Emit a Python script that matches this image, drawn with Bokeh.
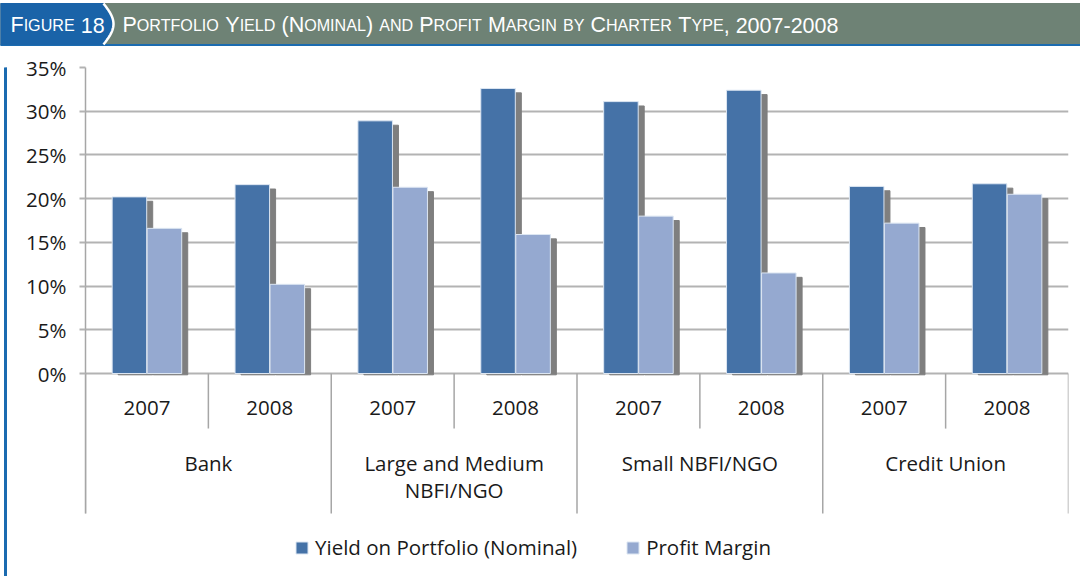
import numpy as np
from bokeh.plotting import figure
from bokeh.models import (ColumnDataSource, FactorRange, Range1d, FixedTicker,
                          PrintfTickFormatter, Legend, LegendItem)
from bokeh.transform import dodge
from bokeh.layouts import column, row
from bokeh.core.properties import value
from bokeh.embed import file_html
from bokeh.resources import INLINE

# ---------------- data ----------------
groups = ["Bank", "Large and Medium NBFI/NGO", "Small NBFI/NGO", "Credit Union"]
group_labels = ["Bank", "Large and Medium\nNBFI/NGO", "Small NBFI/NGO", "Credit Union"]
years = ["2007", "2008"]
yield_nominal = [20.2, 21.6, 28.9, 32.6, 31.1, 32.4, 21.4, 21.7]
profit_margin = [16.6, 10.2, 21.3, 15.9, 18.0, 11.5, 17.2, 20.5]
y_ticks = [0, 5, 10, 15, 20, 25, 30, 35]
series_names = ["Yield on Portfolio (Nominal)", "Profit Margin"]
fig_label = "Figure 18"
title_text = "Portfolio Yield (Nominal) and Profit Margin by Charter Type, 2007-2008"

# ---------------- styles ----------------
DARK = "#4572A7"
LIGHT = "#95A9D0"
SHADOW = "#7F7F7F"
BAR_LINE = "#DCE6F2"
GRID = "#B3B3B3"
AXIS = "#A6A6A6"
BLUE = "#1B6BB0"
BOX_BLUE = "#1A63A8"
BAR_BG = "#6E8275"
FONT = "Open Sans"
TITLE_FONT = "Liberation Sans"
TXT = "#1A1A1A"
FS = "20.5px"

PX_PER_UNIT = 8.743
SHADOW_DROP = 0.5

factors = [(g, y) for g in groups for y in years]

# ---------------- title bar (small caps built from pieces) ----------------
W = dict(A=667, B=667, C=722, D=722, E=667, F=611, G=778, H=722, I=278, J=500,
         K=667, L=556, M=833, N=722, O=778, P=667, Q=778, R=722, S=667, T=611,
         U=722, V=667, W=944, X=667, Y=667, Z=611)
W.update({str(d): 556 for d in range(10)})
W.update({" ": 278, "(": 333, ")": 333, ",": 278, "-": 333, ".": 278})
SC = 0.75


def adv(ch, big):
    return W[ch.upper()] / 1000.0 * big * (SC if ch.islower() else 1.0)


def smallcaps_pieces(s, x0, big):
    pieces = []
    x = x0
    cur, cur_small, cur_x = "", None, x0
    for ch in s:
        if ch == " ":
            if cur:
                pieces.append((cur, cur_x, cur_small))
            cur, cur_small = "", None
            x += adv(ch, big)
            continue
        small = ch.islower()
        if cur_small is None or small != cur_small:
            if cur:
                pieces.append((cur, cur_x, cur_small))
            cur, cur_small, cur_x = "", small, x
        cur += ch.upper()
        x += adv(ch, big)
    if cur:
        pieces.append((cur, cur_x, cur_small))
    return pieces


def em_width(s):
    return sum(adv(c, 1.0) for c in s)


big = 716.0 / em_width(title_text)
tp = smallcaps_pieces(title_text, 122, big)
fp = smallcaps_pieces(fig_label, 10, big)

t = figure(width=1080, height=46, x_range=Range1d(0, 1080), y_range=Range1d(46, 0),
           output_backend="svg", toolbar_location=None, min_border=0,
           x_axis_location=None, y_axis_location=None, outline_line_color=None,
           background_fill_color="white", border_fill_color="white")
t.grid.visible = False
t.quad(left=0, right=1080, top=3, bottom=44, color=BAR_BG)
t.quad(left=0, right=1080, top=44, bottom=46, color=BLUE)
tt = np.linspace(0, 1, 30)
cx = 103 + 10 * np.sin(np.pi * tt)
cy = 3 + 41 * tt
t.patch(list(np.r_[0, cx, 0]), list(np.r_[3, cy, 44]), color=BOX_BLUE)
t.line(list(cx), list(cy), line_color="white", line_width=2.5)
for pieces in (fp, tp):
    for txt, x, small in pieces:
        t.text(x=[x], y=[24.5], text=[txt], text_color="white",
               text_font=value(TITLE_FONT),
               text_font_size=f"{big * (SC if small else 1.0):.1f}px",
               text_baseline="alphabetic", text_align="left")

# ---------------- left border strip ----------------
s = figure(width=7, height=530, x_range=Range1d(0, 7), y_range=Range1d(0, 1),
           output_backend="svg", toolbar_location=None, min_border=0,
           x_axis_location=None, y_axis_location=None, outline_line_color=None,
           background_fill_color="white", border_fill_color="white")
s.grid.visible = False
s.quad(left=4, right=6.5, bottom=0, top=1, color=BLUE)

# ---------------- main chart ----------------
x_range = FactorRange(factors=factors, range_padding=0, group_padding=0,
                      subgroup_padding=0, factor_padding=0)
TOP = 21
frame_h = 530 - TOP
y_lo = 35 - frame_h / PX_PER_UNIT
p = figure(width=1073, height=530, x_range=x_range, y_range=Range1d(y_lo, 35),
           output_backend="svg", toolbar_location=None,
           min_border_left=78, min_border_right=12, min_border_top=TOP, min_border_bottom=0,
           x_axis_location=None, outline_line_color=None)
p.xgrid.visible = False
p.ygrid.grid_line_color = GRID
p.ygrid.grid_line_width = 2
p.yaxis.ticker = FixedTicker(ticks=y_ticks)
p.yaxis.formatter = PrintfTickFormatter(format="%d%%")
p.yaxis.bounds = (-16, 35)
p.yaxis.axis_line_color = AXIS
p.yaxis.axis_line_width = 1.5
p.yaxis.major_tick_line_color = GRID
p.yaxis.major_tick_line_width = 2
p.yaxis.major_tick_in = 0
p.yaxis.major_tick_out = 6
p.yaxis.minor_tick_line_color = None
p.yaxis.major_label_text_font = FONT
p.yaxis.major_label_text_font_size = FS
p.yaxis.major_label_text_color = TXT
p.yaxis.major_label_standoff = 13

src = ColumnDataSource(dict(
    x=factors,
    yld=yield_nominal,
    pm=profit_margin,
    yld_sh=[v - SHADOW_DROP for v in yield_nominal],
    pm_sh=[v - SHADOW_DROP for v in profit_margin],
    yr=[f[1] for f in factors],
    sep_bottom=[-16.0 if f[1] == years[0] else -6.3 for f in factors],
))

BW = 0.281
OFF = 0.1425
SH = 0.049
p.vbar(x=dodge("x", -OFF + SH, range=p.x_range), top="yld_sh", bottom=-0.15, width=BW,
       color=SHADOW, source=src)
r1 = p.vbar(x=dodge("x", -OFF, range=p.x_range), top="yld", bottom=0, width=BW,
            fill_color=DARK, line_color=BAR_LINE, line_width=1, source=src)
p.vbar(x=dodge("x", OFF + SH, range=p.x_range), top="pm_sh", bottom=-0.15, width=BW,
       color=SHADOW, source=src)
r2 = p.vbar(x=dodge("x", OFF, range=p.x_range), top="pm", bottom=0, width=BW,
            fill_color=LIGHT, line_color=BAR_LINE, line_width=1, source=src)

# category separators & labels (hierarchical axis)
p.segment(x0=dodge("x", -0.5, range=p.x_range), x1=dodge("x", -0.5, range=p.x_range),
          y0=0, y1="sep_bottom", line_color=AXIS, line_width=1.5, source=src)
last = ColumnDataSource(dict(x=[factors[-1]], yb=[-16.0]))
p.segment(x0=dodge("x", 0.5, range=p.x_range), x1=dodge("x", 0.5, range=p.x_range),
          y0=0, y1="yb", line_color=AXIS, line_width=1.5, source=last)
p.text(x="x", y=-4.0, text="yr", source=src, text_font=value(FONT), text_font_size=FS,
       text_color=TXT, text_align="center", text_baseline="middle")
gsrc = ColumnDataSource(dict(x=groups, label=group_labels))
p.text(x="x", y=-8.6, text="label", source=gsrc, text_font=value(FONT), text_font_size=FS,
       text_color=TXT, text_align="center", text_baseline="top", text_line_height=0.98)

legend = Legend(items=[LegendItem(label=series_names[0], renderers=[r1]),
                       LegendItem(label=series_names[1], renderers=[r2])],
                orientation="horizontal", location=(209, 15),
                border_line_color=None, background_fill_alpha=0, padding=0, margin=0,
                spacing=48, glyph_width=15, glyph_height=15, label_standoff=6,
                label_text_font=FONT, label_text_font_size=FS, label_text_color=TXT,
                label_height=20)
p.add_layout(legend)

layout = column(t, row(s, p))
open("out.html", "w").write(file_html(layout, INLINE))
